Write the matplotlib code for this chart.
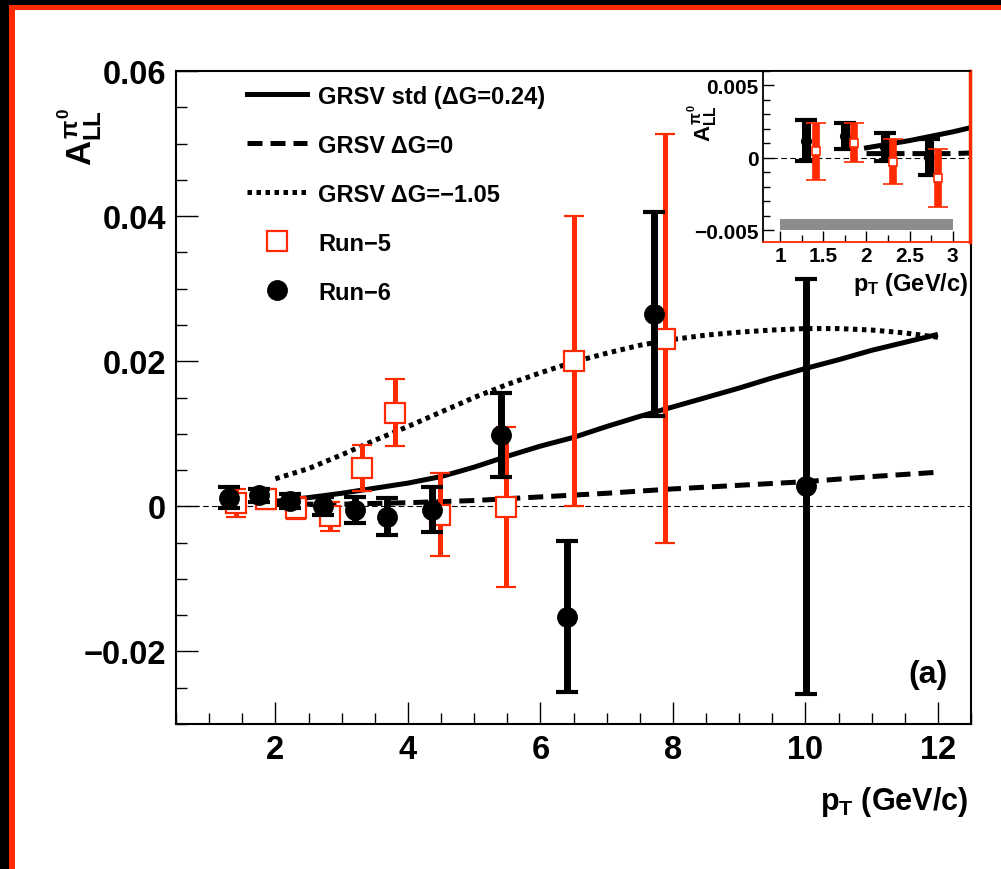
import matplotlib
matplotlib.use('Agg')
import matplotlib.pyplot as plt
from matplotlib.lines import Line2D
from matplotlib.patches import Rectangle
from matplotlib.ticker import MultipleLocator, FuncFormatter

plt.rcParams['font.family'] = ['Liberation Sans', 'DejaVu Sans']
plt.rcParams['font.weight'] = 'bold'
plt.rcParams['mathtext.fontset'] = 'custom'
plt.rcParams['mathtext.rm'] = 'Liberation Sans:bold'
plt.rcParams['mathtext.it'] = 'Liberation Sans:bold'
plt.rcParams['mathtext.bf'] = 'Liberation Sans:bold'
plt.rcParams['axes.unicode_minus'] = True

# ---------------- data ----------------
run6_pt = [1.30, 1.75, 2.22, 2.72, 3.20, 3.68, 4.36, 5.40, 6.40, 7.71, 10.01]
run6_all = [0.0012, 0.0015, 0.00075, 0.00005, -0.0005, -0.00145, -0.0005, 0.00985, -0.0152, 0.0265, 0.0028]
run6_err = [0.0014, 0.0009, 0.00095, 0.00125, 0.0018, 0.00255, 0.0031, 0.00575, 0.0104, 0.0141, 0.0286]

run5_pt = [1.41, 1.86, 2.31, 2.83, 3.30, 3.80, 4.48, 5.48, 6.51, 7.88]
run5_all = [0.00045, 0.00105, -0.00025, -0.0014, 0.00525, 0.0129, -0.00115, -0.00005, 0.0200, 0.0231]
run5_err = [0.00195, 0.00135, 0.00155, 0.0020, 0.00315, 0.0046, 0.00575, 0.0110, 0.0200, 0.0282]

std_pt = [2.0, 2.5, 3.0, 3.5, 4.0, 4.5, 5.0, 5.5, 6.0, 6.5, 7.0, 7.5, 8.0, 8.5, 9.0, 9.5, 10.0, 10.5, 11.0, 11.5, 12.0]
std_all = [0.0007, 0.0012, 0.0018, 0.0025, 0.0032, 0.0041, 0.0054, 0.0069, 0.0083, 0.0095, 0.0110, 0.0124, 0.0137, 0.0150, 0.0163, 0.0177, 0.0190, 0.0202, 0.0215, 0.0226, 0.0237]

zero_pt = [2.0, 3.0, 4.0, 5.0, 6.0, 7.0, 8.0, 9.0, 10.0, 11.0, 12.0]
zero_all = [0.0003, 0.0003, 0.0005, 0.0008, 0.0013, 0.0018, 0.0024, 0.0029, 0.0034, 0.0041, 0.0047]

neg_pt = [2.0, 2.5, 3.0, 3.5, 4.0, 4.5, 5.0, 5.5, 6.0, 6.5, 7.0, 7.5, 8.0, 8.5, 9.0, 9.5, 10.0, 10.5, 11.0, 11.5, 12.0]
neg_all = [0.0038, 0.0052, 0.0071, 0.0091, 0.0110, 0.0130, 0.0150, 0.0168, 0.0184, 0.0199, 0.0211, 0.0222, 0.0230, 0.0236, 0.0240, 0.0243, 0.0245, 0.0245, 0.0243, 0.0239, 0.0233]

syst_band_pt = [1.0, 3.0]
syst_band_all = [-0.0050, -0.0042]

n_inset = 4  # number of low-pT bins shown in the inset

legend_labels = ['GRSV std (\u0394G=0.24)', 'GRSV \u0394G=0', 'GRSV \u0394G=\u22121.05', 'Run\u22125', 'Run\u22126']

RED = '#ff2a00'
W, H = 1001, 870

fig = plt.figure(figsize=(W / 100, H / 100), dpi=100)
fig.patch.set_facecolor('white')

# frame of the screenshot (black + red strips)
for (x0, y0, w, h, c) in [
    (0, 0, 9 / W, 1, 'black'),
    (0, 1 - 6 / H, 1, 6 / H, 'black'),
    (9 / W, 0, 6 / W, 1 - 6 / H, RED),
    (9 / W, 1 - 11 / H, 1 - 9 / W, 5 / H, RED),
]:
    fig.patches.append(Rectangle((x0, y0), w, h, transform=fig.transFigure,
                                 facecolor=c, edgecolor='none', zorder=-5))


def fmt_main(v, pos):
    if abs(v) < 1e-12:
        return '0'
    return ('%.2f' % v).replace('-', '\u2212')


# ---------------- main axes ----------------
ax = fig.add_axes([176 / W, (H - 725) / H, (971 - 176) / W, (725 - 72) / H])
ax.set_xlim(0.5, 12.5)
ax.set_ylim(-0.03, 0.06)
ax.axhline(0, color='black', lw=0.8, ls=(0, (5, 3)), zorder=1)

ax.plot(std_pt, std_all, color='black', lw=3.6, solid_capstyle='butt', zorder=2)
ax.plot(zero_pt, zero_all, color='black', lw=3.6, ls=(0, (3, 1.6)), zorder=2)
ax.plot(neg_pt, neg_all, color='black', lw=3.6, ls=(0, (0.9, 0.9)), zorder=2)

ax.errorbar(run5_pt, run5_all, yerr=run5_err, fmt='s', ms=14, mfc='white', mec=RED,
            mew=1.6, ecolor=RED, elinewidth=3.6, capsize=7, capthick=3, zorder=3)
ax.errorbar(run6_pt, run6_all, yerr=run6_err, fmt='o', ms=14, color='black',
            elinewidth=5, capsize=8, capthick=3, zorder=4)

ax.xaxis.set_major_locator(MultipleLocator(2))
ax.xaxis.set_minor_locator(MultipleLocator(0.5))
ax.yaxis.set_major_locator(MultipleLocator(0.02))
ax.yaxis.set_minor_locator(MultipleLocator(0.005))
ax.yaxis.set_major_formatter(FuncFormatter(fmt_main))
ax.xaxis.set_major_formatter(FuncFormatter(lambda v, p: '%d' % v))
ax.tick_params(which='both', direction='in', top=False, right=False, width=1)
ax.tick_params(which='major', length=16, labelsize=23.5, pad=7)
ax.tick_params(which='minor', length=8)
for s in ax.spines.values():
    s.set_linewidth(1.5)

handles = [
    Line2D([], [], color='black', lw=3.6),
    Line2D([], [], color='black', lw=3.6, ls=(0, (3, 1.6))),
    Line2D([], [], color='black', lw=3.6, ls=(0, (0.9, 0.9))),
    Line2D([], [], ls='none', marker='s', ms=14, mfc='white', mec=RED, mew=1.6),
    Line2D([], [], ls='none', marker='o', ms=14, color='black'),
]
ax.legend(handles, legend_labels, loc='upper left', bbox_to_anchor=((247 - 176) / 795, 0.979),
          frameon=False, fontsize=17, handlelength=2.55, handletextpad=0.46,
          labelspacing=1.1, borderpad=0, borderaxespad=0, numpoints=1)

ax.text(0.971, 0.065, '(a)', transform=ax.transAxes, ha='right', va='baseline', fontsize=23)

fig.text(80 / W, (H - 108) / H, r'$A_{LL}^{\pi^{0}}$', rotation=90, ha='center', va='top', fontsize=25)
fig.text(968 / W, (H - 810) / H, r'$p_{T}$ (GeV/c)', ha='right', va='baseline', fontsize=22)

# ---------------- inset ----------------
axin = fig.add_axes([763 / W, (H - 243) / H, 207 / W, 171 / H])
axin.set_xlim(0.8, 3.2)
axin.set_ylim(-0.0058, 0.006)
axin.axhline(0, color='black', lw=0.8, ls=(0, (5, 3)), zorder=1)
axin.fill_between(syst_band_pt, [syst_band_all[0]] * 2, [syst_band_all[1]] * 2,
                  color='#8c8c8c', lw=0, zorder=1)
axin.plot(std_pt, std_all, color='black', lw=3.6, zorder=2)
axin.plot(zero_pt, zero_all, color='black', lw=3.6, ls=(0, (3, 1.6)), zorder=2)
axin.errorbar(run6_pt[:n_inset], run6_all[:n_inset], yerr=run6_err[:n_inset], fmt='o', ms=7,
              color='black', elinewidth=6.5, capsize=8, capthick=3, zorder=3)
axin.errorbar(run5_pt[:n_inset], run5_all[:n_inset], yerr=run5_err[:n_inset], fmt='s', ms=6,
              mfc='white', mec=RED, mew=1.2, ecolor=RED, elinewidth=5.5, capsize=7,
              capthick=3, zorder=4)
axin.xaxis.set_major_locator(MultipleLocator(0.5))
axin.xaxis.set_minor_locator(MultipleLocator(0.25))
axin.yaxis.set_major_locator(MultipleLocator(0.005))
axin.yaxis.set_minor_locator(MultipleLocator(0.001))
axin.xaxis.set_major_formatter(FuncFormatter(lambda v, p: '%g' % v))
axin.yaxis.set_major_formatter(FuncFormatter(
    lambda v, p: '0' if abs(v) < 1e-12 else ('%.3f' % v).replace('-', '\u2212')))
axin.tick_params(which='both', direction='in', top=False, right=False, width=1)
axin.tick_params(which='major', length=8, labelsize=15, pad=3)
axin.tick_params(which='minor', length=5)
for s in axin.spines.values():
    s.set_linewidth(1.3)
axin.spines['bottom'].set_color(RED)
axin.spines['right'].set_color(RED)
axin.spines['right'].set_linewidth(2.5)

fig.text(703 / W, (H - 123) / H, r'$A_{LL}^{\pi^{0}}$', rotation=90, ha='center', va='center', fontsize=16)
fig.text(968 / W, (H - 291) / H, r'$p_{T}$ (GeV/c)', ha='right', va='baseline', fontsize=17)

fig.savefig('out.png', dpi=100, facecolor='white')
